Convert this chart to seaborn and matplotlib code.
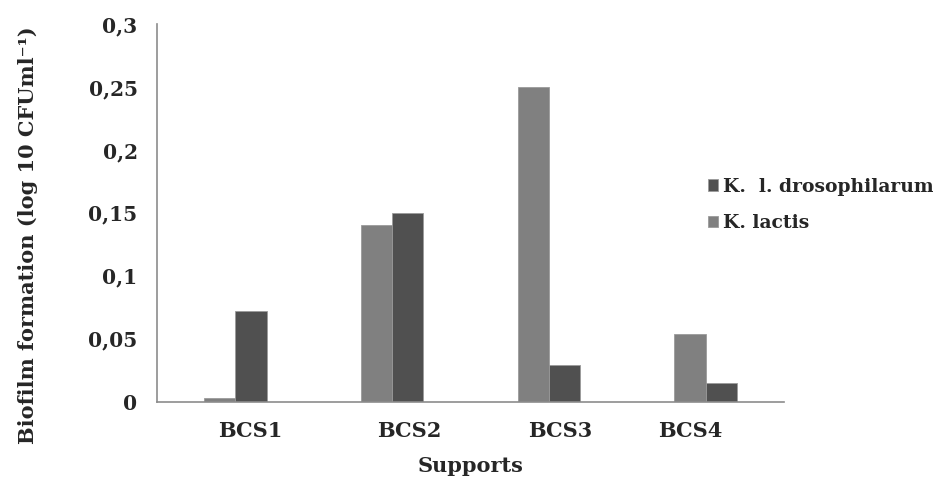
import matplotlib
matplotlib.use("Agg")
import matplotlib.pyplot as plt
import matplotlib.transforms as mtransforms
import seaborn as sns
import pandas as pd

categories = ["BCS1", "BCS2", "BCS3", "BCS4"]
k_lactis = [0.0027, 0.140, 0.250, 0.0535]
k_dros = [0.072, 0.150, 0.029, 0.0146]
series_names = ["K. lactis", "K.  l. drosophilarum"]
yticks = [0, 0.05, 0.1, 0.15, 0.2, 0.25, 0.3]
ytick_labels = ["0", "0,05", "0,1", "0,15", "0,2", "0,25", "0,3"]

df = pd.DataFrame({
    "Support": categories * 2,
    "Value": k_lactis + k_dros,
    "Series": [series_names[0]] * 4 + [series_names[1]] * 4,
})

sns.set_theme(style="white")
plt.rcParams["font.family"] = ["DejaVu Serif", "Liberation Serif"]

fig = plt.figure(figsize=(9.33, 4.83), dpi=100)
ax = fig.add_axes([157 / 933, 1 - 401.7 / 483, (784 - 157) / 933, (401.7 - 24) / 483])

palette = {series_names[0]: "#808080", series_names[1]: "#505050"}
sns.barplot(data=df, x="Support", y="Value", hue="Series", hue_order=series_names,
            palette=palette, width=0.4, ax=ax, saturation=1, legend=True)
for p in ax.patches:
    p.set_edgecolor("#9a9a9a")
    p.set_linewidth(0.6)

ax.set_ylim(0, 0.3)
ax.set_yticks(yticks)
ax.set_yticklabels(ytick_labels, fontsize=14.5, fontweight="bold")
ax.tick_params(axis="y", direction="out", length=7, width=1, color="#8c8c8c", pad=7)
ax.tick_params(axis="x", length=0, pad=14, labelsize=15)
ax.set_xlim(-0.5, 3.5)

# small per-label horizontal shifts (pixels) as seen in the reference
label_shifts = [15, 17, 11, -15]
for lbl, dx in zip(ax.get_xticklabels(), label_shifts):
    lbl.set_fontweight("bold")
    lbl.set_transform(lbl.get_transform() + mtransforms.ScaledTranslation(dx / 100, 0, fig.dpi_scale_trans))

for s in ["top", "right"]:
    ax.spines[s].set_visible(False)
for s in ["left", "bottom"]:
    ax.spines[s].set_color("#8c8c8c")
    ax.spines[s].set_linewidth(1.2)

ax.set_xlabel("Supports", fontsize=15, fontweight="bold", labelpad=11)
ax.set_ylabel("Biofilm formation (log 10 CFUml\u207b\u00b9)", fontsize=15, fontweight="bold")
ax.yaxis.set_label_coords(-0.19, 0.44)

handles, labels = ax.get_legend_handles_labels()
ax.get_legend().remove()
fig.legend(handles[::-1], labels[::-1], loc="center left", bbox_to_anchor=(708 / 933, 1 - 205 / 483),
           frameon=False, prop={"family": "DejaVu Serif", "weight": "bold", "size": 13.5},
           handlelength=0.55, handleheight=0.55, handletextpad=0.25, labelspacing=1.0,
           borderpad=0, borderaxespad=0)

fig.savefig("out.png", dpi=100)
